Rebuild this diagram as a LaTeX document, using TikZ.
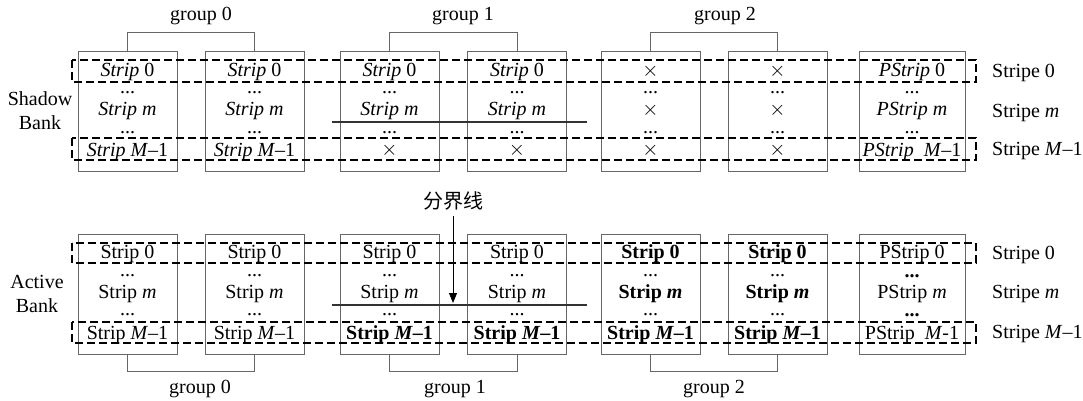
\documentclass[tikz,border=0pt]{standalone}
\usepackage{fontspec}
\setmainfont{Liberation Serif}
\newfontfamily\cjk{Noto Sans CJK SC}
\usepackage{tikz}
\usetikzlibrary{arrows.meta, calc}

\begin{document}
\begin{tikzpicture}[x=1pt,y=-1pt]
        \tikzset{BankStyle/.style = {shape = rectangle,draw = black!60,line width = 0.9pt,minimum width = 99,minimum height = 120,inner sep=0},
        TextStyle/.style = {inner sep=0,font=\fontsize{20}{24}\selectfont},
        StripeStyle/.style = {draw,line width=1.2pt,dash pattern=on 8pt off 4pt},
        GroupStyle/.style = {draw = black!60,line width = 0.9pt}}
    \useasboundingbox (0,0) rectangle (1083,401);

    % shadow bank
    \node[BankStyle] at (127.5,111) (s1) {};
    \node[BankStyle] at (254.5,111) (s2) {};
    \node[BankStyle] at (389.5,111) (s3) {};
    \node[BankStyle] at (517,111) (s4) {};
    \node[BankStyle] at (650.5,111) (s5) {};
    \node[BankStyle] at (777.5,111) (s6) {};
    \node[BankStyle,minimum width=106] at (912,111) (s7) {};
    % active bank
    \node[BankStyle] at (127.5,294) (a1) {};
    \node[BankStyle] at (254.5,294) (a2) {};
    \node[BankStyle] at (389.5,294) (a3) {};
    \node[BankStyle] at (517,294) (a4) {};
    \node[BankStyle] at (650.5,294) (a5) {};
    \node[BankStyle] at (777.5,294) (a6) {};
    \node[BankStyle,minimum width=106] at (912,294) (a7) {};

    \foreach \i/\x in {1/127.5,2/254.5,3/389.5,4/517,5/650.5,6/777.5,7/912}{
        \node[TextStyle] at (\x,93) (s\i-d1) {...};
        \node[TextStyle] at (\x,133) (s\i-d2) {...};
    }
    \foreach \i/\x in {1/127.5,2/254.5,3/389.5,4/517,5/650.5,6/777.5}{
        \node[TextStyle] at (\x,276) (a\i-d1) {...};
        \node[TextStyle] at (\x,315) (a\i-d2) {...};
    }
    \node[TextStyle] at (912,276) (a7-d1) {\textbf{...}};
    \node[TextStyle] at (912,315) (a7-d2) {\textbf{...}};

    \node[TextStyle] at (127.5,72) (s1-0) {\textit{Strip} 0};
    \node[TextStyle] at (127.5,111) (s1-m) {\textit{Strip m}};
    \node[TextStyle] at (127.5,152) (s1-M) {\textit{Strip M}--1};
    \node[TextStyle] at (254.5,72) (s2-0) {\textit{Strip} 0};
    \node[TextStyle] at (254.5,111) (s2-m) {\textit{Strip m}};
    \node[TextStyle] at (254.5,152) (s2-M) {\textit{Strip M}--1};
    \node[TextStyle] at (389.5,72) (s3-0) {\textit{Strip} 0};
    \node[TextStyle] at (389.5,111) (s3-m) {\textit{Strip m}};
    \node[TextStyle] at (389.5,150) (s3-M) {$\times$};
    \node[TextStyle] at (517,72) (s4-0) {\textit{Strip} 0};
    \node[TextStyle] at (517,111) (s4-m) {\textit{Strip m}};
    \node[TextStyle] at (517,150) (s4-M) {$\times$};
    \node[TextStyle] at (650.5,71) (s5-0) {$\times$};
    \node[TextStyle] at (650.5,110) (s5-m) {$\times$};
    \node[TextStyle] at (650.5,150) (s5-M) {$\times$};
    \node[TextStyle] at (777.5,71) (s6-0) {$\times$};
    \node[TextStyle] at (777.5,110) (s6-m) {$\times$};
    \node[TextStyle] at (777.5,150) (s6-M) {$\times$};
    \node[TextStyle] at (912,72) (s7-0) {\textit{PStrip} 0};
    \node[TextStyle] at (912,111) (s7-m) {\textit{PStrip m}};
    \node[TextStyle] at (912,152) (s7-M) {\textit{PStrip~ M}--1};

    \node[TextStyle] at (127.5,254) (a1-0) {Strip 0};
    \node[TextStyle] at (127.5,294) (a1-m) {Strip \textit{m}};
    \node[TextStyle] at (127.5,335) (a1-M) {Strip \textit{M}--1};
    \node[TextStyle] at (254.5,254) (a2-0) {Strip 0};
    \node[TextStyle] at (254.5,294) (a2-m) {Strip \textit{m}};
    \node[TextStyle] at (254.5,335) (a2-M) {Strip \textit{M}--1};
    \node[TextStyle] at (389.5,254) (a3-0) {Strip 0};
    \node[TextStyle] at (389.5,294) (a3-m) {Strip \textit{m}};
    \node[TextStyle] at (389.5,335) (a3-M) {\textbf{Strip \textit{M}--1}};
    \node[TextStyle] at (517,254) (a4-0) {Strip 0};
    \node[TextStyle] at (517,294) (a4-m) {Strip \textit{m}};
    \node[TextStyle] at (517,335) (a4-M) {\textbf{Strip \textit{M}--1}};
    \node[TextStyle] at (650.5,254) (a5-0) {\textbf{Strip 0}};
    \node[TextStyle] at (650.5,294) (a5-m) {\textbf{Strip \textit{m}}};
    \node[TextStyle] at (650.5,335) (a5-M) {\textbf{Strip \textit{M}--1}};
    \node[TextStyle] at (777.5,254) (a6-0) {\textbf{Strip 0}};
    \node[TextStyle] at (777.5,294) (a6-m) {\textbf{Strip \textit{m}}};
    \node[TextStyle] at (777.5,335) (a6-M) {\textbf{Strip \textit{M}--1}};
    \node[TextStyle] at (912,254) (a7-0) {PStrip 0};
    \node[TextStyle] at (912,294) (a7-m) {PStrip \textit{m}};
    \node[TextStyle] at (912,335) (a7-M) {PStrip~ \textit{M}-1};

    % stripes
    \draw[StripeStyle] (72,60) rectangle (976,82);
    \draw[StripeStyle] (72,138) rectangle (976,160);
    \draw[StripeStyle] (72,243) rectangle (976,263);
    \draw[StripeStyle] (72,322) rectangle (976,343);

    \node[TextStyle,anchor=west] at (992,73) (st0) {Stripe 0};
    \node[TextStyle,anchor=west] at (992,113) (stm) {Stripe \textit{m}};
    \node[TextStyle,anchor=west] at (992,151) (stM) {Stripe \textit{M}--1};
    \node[TextStyle,anchor=west] at (992,255) (at0) {Stripe 0};
    \node[TextStyle,anchor=west] at (992,294) (atm) {Stripe \textit{m}};
    \node[TextStyle,anchor=west] at (992,334) (atM) {Stripe \textit{M}--1};

    \node[TextStyle,align=center] at (40,111) (shadow) {Shadow\\Bank};
    \node[TextStyle,align=center] at (37,294) (active) {Active\\Bank};

    % groups
    \path[GroupStyle]
        (s1.north) -- ++(0,-18) -| (s2.north)
        (s3.north) -- ++(0,-18) -| (s4.north)
        (s5.north) -- ++(0,-18) -| (s6.north)
        (a1.south) -- ++(0,17) -| (a2.south)
        (a3.south) -- ++(0,17) -| (a4.south)
        (a5.south) -- ++(0,17) -| (a6.south)
        ;
    \node[TextStyle] at (201,16) (gs0) {group 0};
    \node[TextStyle] at (463,16) (gs1) {group 1};
    \node[TextStyle] at (725,16) (gs2) {group 2};
    \node[TextStyle] at (200,389) (ga0) {group 0};
    \node[TextStyle] at (455,389) (ga1) {group 1};
    \node[TextStyle] at (714,389) (ga2) {group 2};

    % boundary
    \coordinate (sl) at (332,122);
    \coordinate (sr) at (587,122);
    \coordinate (al) at (332,305);
    \coordinate (ar) at (587,305);
    \draw[line width=1.4pt,black!80] (sl) -- (sr);
    \draw[line width=1.4pt,black!80] (al) -- (ar);
    \node[TextStyle] at (453,201) (cut) {\cjk 分界线};
    \coordinate (tip) at (453,303);
    \draw[-{Triangle[length=10pt,width=8pt]},line width=0.8pt,shorten <=6pt] (cut.south) -- (tip);
\end{tikzpicture}
\end{document}
